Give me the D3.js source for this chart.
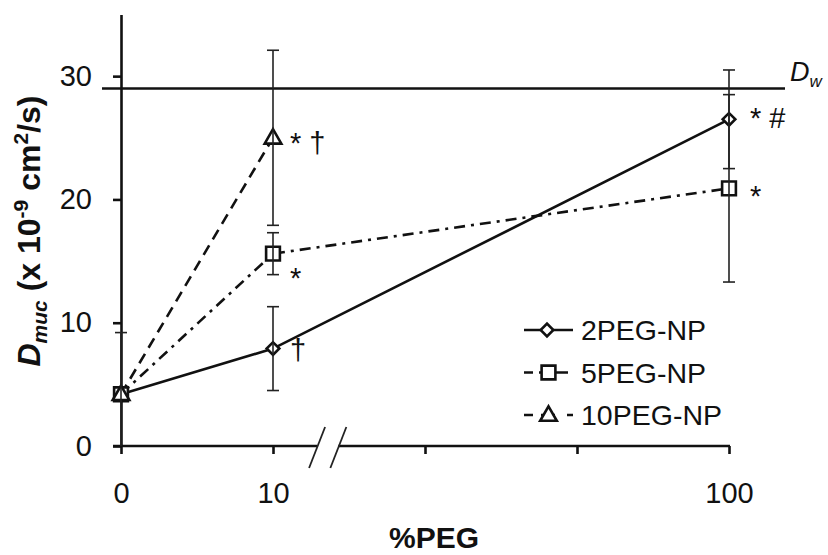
<!DOCTYPE html>
<html>
<head>
<meta charset="utf-8">
<script src="https://cdnjs.cloudflare.com/ajax/libs/d3/7.8.5/d3.min.js"></script>
<style>
  body { margin: 0; background: #fff; }
  text { font-family: Arial, "Liberation Sans", sans-serif; fill: #111; }
</style>
</head>
<body>
<div id="chart"></div>
<script>
// data
var x_labels = ["0", "10", "", "", "100"];   // category axis, gap drawn with a break
var series_names = ["2PEG-NP", "5PEG-NP", "10PEG-NP"];
var x_index_2peg = [0, 1, 4];
var y_2peg = [4.2, 7.9, 26.5];
var err_2peg = [5.0, 3.4, 4.0];
var x_index_5peg = [0, 1, 4];
var y_5peg = [4.2, 15.6, 20.9];
var err_5peg = [0, 1.7, 7.6];
var x_index_10peg = [0, 1];
var y_10peg = [4.2, 25.0];
var err_10peg = [0, 7.1];
var y_ticks = [0, 10, 20, 30];
var d_water = 29;
var marks_2peg = ["", "\u2020", "* #"];
var marks_5peg = ["", "*", "*"];
var marks_10peg = ["", "* \u2020"];

var width = 828, height = 555;
var svg = d3.select("#chart").append("svg")
    .attr("width", width).attr("height", height);
svg.append("rect").attr("width", width).attr("height", height).attr("fill", "#fff");

var scale_x = d3.scaleLinear().domain([0, 4]).range([121, 729]);
var scale_y = d3.scaleLinear().domain([0, 35]).range([446, 14.5]);

svg.append("defs").append("clipPath").attr("id", "plot")
    .append("rect").attr("x", 100).attr("y", 0)
    .attr("width", 700).attr("height", scale_y(0));

// y axis
var y_axis = svg.append("g")
    .attr("transform", "translate(" + scale_x(0) + ",0)")
    .call(d3.axisLeft(scale_y).tickValues(y_ticks).tickSize(8).tickPadding(21).tickSizeOuter(0));
y_axis.select(".domain").attr("stroke", "#111").attr("stroke-width", 2.6);
y_axis.selectAll(".tick line").attr("stroke", "#111").attr("stroke-width", 2.6);
y_axis.selectAll(".tick text").style("font-size", "29px").attr("fill", "#222");

// x axis (ticks + labels only, line drawn with a break)
var x_axis = svg.append("g")
    .attr("transform", "translate(0," + scale_y(0) + ")")
    .call(d3.axisBottom(scale_x).tickValues(d3.range(x_labels.length))
        .tickFormat(function(d){ return x_labels[d]; })
        .tickSize(8).tickPadding(28).tickSizeOuter(0));
x_axis.select(".domain").remove();
x_axis.selectAll(".tick line").attr("stroke", "#111").attr("stroke-width", 2.6);
x_axis.selectAll(".tick text").style("font-size", "29px").attr("fill", "#222");

var break_a = 1.29, break_b = 1.43;
svg.append("line").attr("x1", scale_x(0) - 8).attr("x2", scale_x(break_a))
    .attr("y1", scale_y(0)).attr("y2", scale_y(0))
    .attr("stroke", "#111").attr("stroke-width", 2.6);
svg.append("line").attr("x1", scale_x(break_b)).attr("x2", scale_x(4) + 1)
    .attr("y1", scale_y(0)).attr("y2", scale_y(0))
    .attr("stroke", "#111").attr("stroke-width", 2.6);
[break_a, break_b].forEach(function(b){
    svg.append("line")
        .attr("x1", scale_x(b) - 8).attr("y1", scale_y(0) + 22)
        .attr("x2", scale_x(b) + 8).attr("y2", scale_y(0) - 19)
        .attr("stroke", "#222").attr("stroke-width", 1.8);
});

// D_w line
svg.append("line").attr("x1", 102).attr("x2", 785)
    .attr("y1", scale_y(d_water)).attr("y2", scale_y(d_water))
    .attr("stroke", "#111").attr("stroke-width", 2.6);
var dw = svg.append("text").attr("x", 790).attr("y", 81)
    .style("font-size", "27px").style("font-style", "italic");
dw.append("tspan").text("D");
dw.append("tspan").attr("dy", 6).style("font-size", "17px").text("w");

// series
var series = [
    { xs: x_index_2peg, ys: y_2peg, err: err_2peg, marks: marks_2peg, dash: null, key_dash: null, shape: "diamond" },
    { xs: x_index_5peg, ys: y_5peg, err: err_5peg, marks: marks_5peg, dash: "11,6,3,6", key_dash: "9,6,29,20", shape: "square" },
    { xs: x_index_10peg, ys: y_10peg, err: err_10peg, marks: marks_10peg, dash: "11,7", key_dash: "9,8,14,12,6", shape: "triangle" }
];

function marker(g, shape) {
    var sym;
    if (shape == "diamond") sym = d3.symbol(d3.symbolSquare, 80);
    else if (shape == "square") sym = d3.symbol(d3.symbolSquare, 190);
    else sym = d3.symbol(d3.symbolTriangle, 120);
    g.append("path").attr("d", sym())
        .attr("transform", shape == "diamond" ? "rotate(45)" : (shape == "triangle" ? "translate(0,1)" : null))
        .attr("fill", "#fff").attr("stroke", "#111").attr("stroke-width", 2.6);
}

var line = d3.line()
    .x(function(d){ return scale_x(d[0]); })
    .y(function(d){ return scale_y(d[1]); });

series.forEach(function(s){
    var pts = s.xs.map(function(x, i){ return [x, s.ys[i]]; });
    svg.append("path").attr("d", line(pts)).attr("fill", "none")
        .attr("stroke", "#111").attr("stroke-width", 2.6)
        .attr("stroke-dasharray", s.dash);
});

series.forEach(function(s){
    s.xs.forEach(function(x, i){
        var g = svg.append("g")
            .attr("transform", "translate(" + scale_x(x) + "," + scale_y(s.ys[i]) + ")");
        marker(g, s.shape);
    });
});

// error bars on top of markers
var eb = svg.append("g").attr("clip-path", "url(#plot)")
    .attr("stroke", "#222").attr("stroke-width", 1.6);
series.forEach(function(s){
    s.xs.forEach(function(x, i){
        if (!s.err[i]) return;
        var cx = scale_x(x), lo = scale_y(s.ys[i] - s.err[i]), hi = scale_y(s.ys[i] + s.err[i]);
        eb.append("line").attr("x1", cx).attr("x2", cx).attr("y1", lo).attr("y2", hi);
        eb.append("line").attr("x1", cx - 6).attr("x2", cx + 6).attr("y1", lo).attr("y2", lo);
        eb.append("line").attr("x1", cx - 6).attr("x2", cx + 6).attr("y1", hi).attr("y2", hi);
    });
});

// significance marks
var mark_offsets = [
    [null, [17, 11], [21, 9]],
    [null, [17, 34], [21, 18]],
    [null, [17, 15]]
];
series.forEach(function(s, si){
    s.marks.forEach(function(m, i){
        if (!m) return;
        var off = mark_offsets[si][i];
        svg.append("text")
            .attr("x", scale_x(s.xs[i]) + off[0])
            .attr("y", scale_y(s.ys[i]) + off[1])
            .style("font-size", "29px").text(m);
    });
});

// legend
var legend = svg.append("g").attr("transform", "translate(524,330)");
series.forEach(function(s, i){
    var row = legend.append("g").attr("transform", "translate(0," + (i * 42.5) + ")");
    row.append("line").attr("x1", 0).attr("x2", 49).attr("y1", 0).attr("y2", 0)
        .attr("stroke", "#111").attr("stroke-width", 2.6)
        .attr("stroke-dasharray", s.key_dash);
    var mg = row.append("g").attr("transform", "translate(" + (i == 0 ? 23 : 24.5) + ",0)");
    marker(mg, s.shape);
    row.append("text").attr("x", 57).attr("y", 10)
        .style("font-size", "28.5px").attr("fill", "#222").text(series_names[i]);
});

// axis titles
svg.append("text").attr("x", 434).attr("y", 548).attr("text-anchor", "middle")
    .style("font-size", "30px").style("font-weight", "bold").text("%PEG");

var ylab = svg.append("text")
    .attr("transform", "translate(40,231) rotate(-90)")
    .attr("text-anchor", "middle")
    .style("font-size", "32px").style("font-weight", "bold");
ylab.append("tspan").style("font-style", "italic").text("D");
ylab.append("tspan").attr("dy", 7).style("font-style", "italic").style("font-size", "21px").text("muc");
ylab.append("tspan").attr("dy", -7).text(" (x 10");
ylab.append("tspan").attr("dy", -12).style("font-size", "21px").text("-9");
ylab.append("tspan").attr("dy", 12).text(" cm");
ylab.append("tspan").attr("dy", -12).style("font-size", "21px").text("2");
ylab.append("tspan").attr("dy", 12).text("/s)");
</script>
</body>
</html>
